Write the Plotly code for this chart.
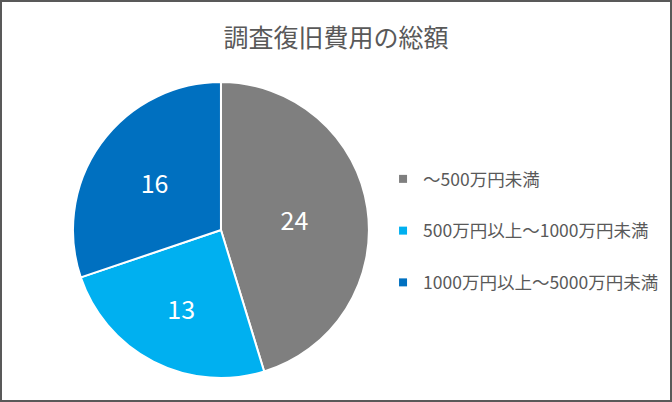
import plotly.graph_objects as go

categories = ["～500万円未満", "500万円以上～1000万円未満", "1000万円以上～5000万円未満"]
values = [24, 13, 16]
colors = ["#7F7F7F", "#00B0F0", "#0070C0"]

font_jp = "Noto Sans CJK JP"

fig = go.Figure()
fig.add_trace(go.Pie(
    labels=categories,
    values=values,
    sort=False,
    direction="clockwise",
    rotation=0,
    marker=dict(colors=colors, line=dict(color="white", width=2)),
    textinfo="value",
    textposition="inside",
    insidetextorientation="horizontal",
    textfont=dict(color="white", size=25, family=font_jp),
    domain=dict(x=[0.1086, 0.549], y=[0.0597, 0.796]),
    showlegend=False,
    hoverinfo="label+value",
))

# legend entries, one group each so the gap can be set
for i, (name, c) in enumerate(zip(categories, colors)):
    fig.add_trace(go.Scatter(
        x=[None], y=[None], mode="markers", name=name,
        marker=dict(symbol="square", size=8, color=c),
        legendgroup=str(i), hoverinfo="skip",
    ))

fig.update_layout(
    width=672, height=402,
    margin=dict(l=0, r=0, t=0, b=0),
    paper_bgcolor="white", plot_bgcolor="white",
    title=dict(text="調査復旧費用の総額", x=0.5, xanchor="center",
               y=1 - 38 / 402, yanchor="middle", yref="container",
               font=dict(family=font_jp, size=25, color="#595959")),
    xaxis=dict(visible=False), yaxis=dict(visible=False),
    legend=dict(x=0.57, xanchor="left", y=1 - 161 / 402, yanchor="top",
                tracegroupgap=26, bgcolor="rgba(0,0,0,0)",
                font=dict(family=font_jp, size=17.5, color="#595959")),
    shapes=[dict(type="rect", xref="paper", yref="paper", x0=0, y0=0, x1=1, y1=1,
                 line=dict(color="#595959", width=4))],
)

fig.write_html("out.html", config={"displayModeBar": False},
               post_script="document.body.style.margin='0';")
